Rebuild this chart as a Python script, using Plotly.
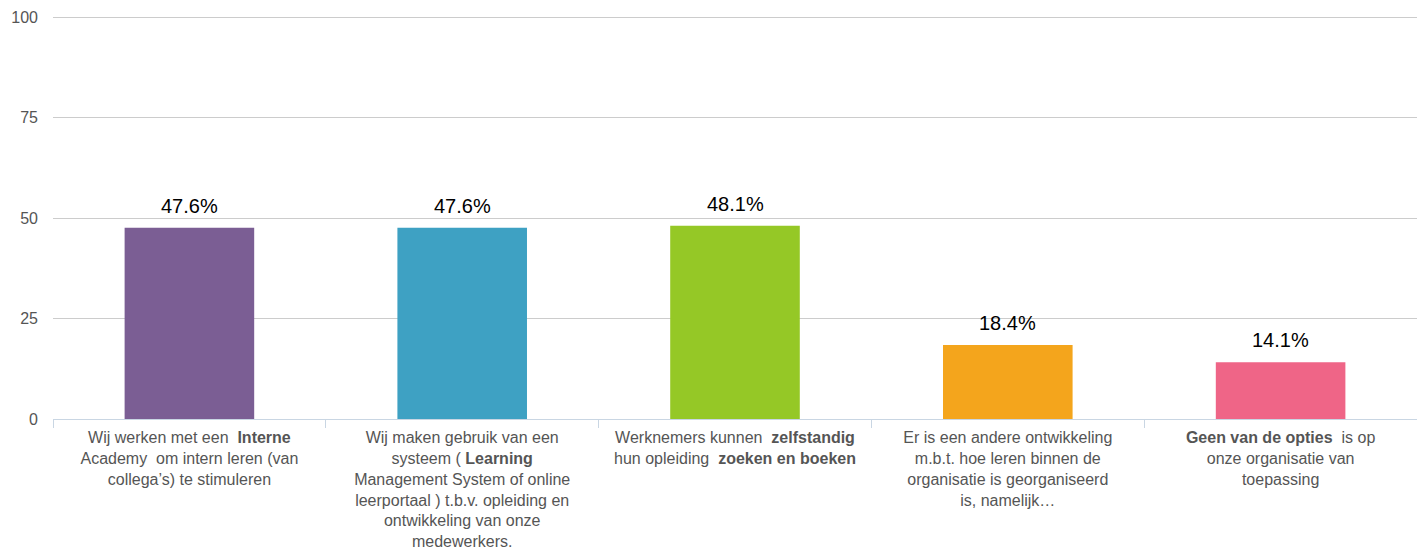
import plotly.graph_objects as go

categories = [
    "Wij werken met een  <b>Interne</b><br>Academy  om intern leren (van<br>collega’s) te stimuleren",
    "Wij maken gebruik van een<br>systeem ( <b>Learning</b><br>Management System of online<br>leerportaal ) t.b.v. opleiding en<br>ontwikkeling van onze<br>medewerkers.",
    "Werknemers kunnen  <b>zelfstandig</b><br>hun opleiding  <b>zoeken en boeken</b>",
    "Er is een andere ontwikkeling<br>m.b.t. hoe leren binnen de<br>organisatie is georganiseerd<br>is, namelijk…",
    "<b>Geen van de opties</b>  is op<br>onze organisatie van<br>toepassing",
]
values = [47.6, 47.6, 48.1, 18.4, 14.1]
labels = ["47.6%", "47.6%", "48.1%", "18.4%", "14.1%"]
colors = ["#7B5E94", "#3EA1C3", "#95C826", "#F4A51C", "#EF6587"]
y_ticks = [0, 25, 50, 75, 100]

fig = go.Figure(go.Bar(
    x=categories, y=values, marker_color=colors, marker_line_width=0,
    width=0.475, hoverinfo="skip",
))
for c, v, t in zip(categories, values, labels):
    fig.add_annotation(x=c, y=v, text=t, showarrow=False, yanchor="bottom", yshift=9,
                       font=dict(family="Liberation Sans, Arial", size=20, color="#000000"))

fig.update_layout(
    width=1417, height=556, autosize=False,
    margin=dict(l=53, r=0, t=15, b=137, autoexpand=False),
    plot_bgcolor="white", paper_bgcolor="white",
    showlegend=False,
    font=dict(family="Liberation Sans, Arial", size=16, color="#555555"),
)
fig.update_yaxes(
    range=[0, 100.5], tickvals=y_ticks, showgrid=True, gridcolor="#CCCCCC", gridwidth=1,
    zeroline=False, tickfont=dict(size=16, color="#555555"), ticklabelstandoff=14,
)
fig.update_xaxes(
    showline=True, linecolor="#C9D6E3", linewidth=1,
    ticks="outside", tickson="boundaries", ticklen=8, tickcolor="#C9D6E3",
    tickfont=dict(size=16, color="#555555"), tickangle=0, ticklabelstandoff=4,
)
post = ("document.body.style.margin='0px';"
        "var gd=document.getElementById('{plot_id}');"
        "Plotly.relayout(gd,{width:1417,height:556});")
fig.write_html("out.html", post_script=post,
               config={"responsive": False, "displayModeBar": False})
